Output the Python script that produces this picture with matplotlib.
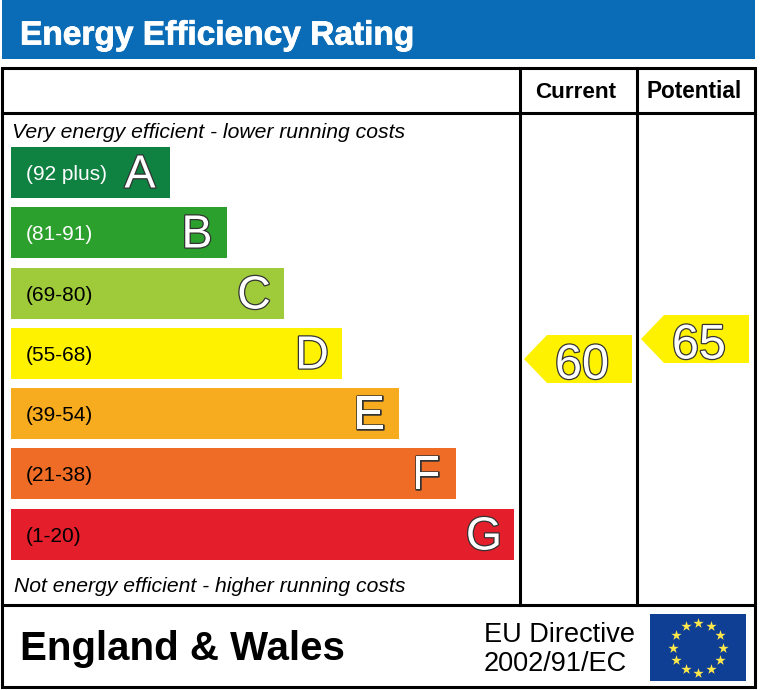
import numpy as np
import matplotlib
matplotlib.use("Agg")
import matplotlib.pyplot as plt
import matplotlib.patheffects as pe
from matplotlib.patches import Polygon, Rectangle

plt.rcParams['font.family'] = ['Liberation Sans', 'DejaVu Sans']

# bands, top to bottom
letters = ['A', 'B', 'C', 'D', 'E', 'F', 'G']
ranges = ['(92 plus)', '(81-91)', '(69-80)', '(55-68)', '(39-54)', '(21-38)', '(1-20)']
band_lengths = [159, 216, 273, 331, 388, 445, 503]
band_colors = ['#0f8242', '#2ba02d', '#9fcb3b', '#fff200', '#f7ab1e', '#ee6c25', '#e41e2a']
range_colors = ['white', 'white', 'black', 'black', 'black', 'black', 'black']
band_tops = [147, 207, 268, 328, 388, 448, 509]

# current and potential ratings
ratings = [60, 65]
rating_labels = ['Current', 'Potential']

BLUE = '#0a6cb6'

fig = plt.figure(figsize=(7.6, 6.9), dpi=100)
ax = fig.add_axes([0, 0, 1, 1])
ax.set_xlim(0, 760)
ax.set_ylim(690, 0)
ax.axis('off')

# title strip
ax.add_patch(Rectangle((2, 0), 753, 59, color=BLUE, lw=0))
ax.text(20, 36, 'Energy Efficiency Rating', color='white', fontsize=24.1,
        fontweight='bold', va='center', ha='left',
        path_effects=[pe.withStroke(linewidth=0.6, foreground='white')])

# frame and grid
lw = 2.2
ax.add_patch(Rectangle((2, 68), 753, 619, fill=False, ec='black', lw=lw))
ax.plot([2, 755], [113, 113], color='black', lw=lw)
ax.plot([2, 755], [605, 605], color='black', lw=lw)
ax.plot([520, 520], [68, 605], color='black', lw=lw)
ax.plot([637, 637], [68, 605], color='black', lw=lw)

ax.text(576, 92, rating_labels[0], fontsize=16.2, fontweight='bold', ha='center', va='center')
ax.text(694, 92, rating_labels[1], fontsize=16.3, fontweight='bold', ha='center', va='center')

ax.text(12, 133, 'Very energy efficient - lower running costs', fontsize=15.2,
        style='italic', ha='left', va='center')
ax.text(14, 586, 'Not energy efficient - higher running costs', fontsize=15.2,
        style='italic', ha='left', va='center')

# the bands
centers = np.array(band_tops) + 25.5
ax.barh(centers, band_lengths, height=51, left=11, color=band_colors, linewidth=0)

outline = [pe.withStroke(linewidth=1.8, foreground='#333333')]
for i in range(len(letters)):
    ax.text(26, centers[i] + 2, ranges[i], color=range_colors[i], fontsize=15,
            ha='left', va='center')
    ax.text(11 + band_lengths[i] - 30, centers[i] + 3, letters[i], color='white',
            fontsize=33.5, ha='center', va='center', path_effects=outline)


def arrow(tip_x, tip_y, value):
    pts = [(tip_x, tip_y), (tip_x + 23, tip_y - 24), (tip_x + 108, tip_y - 24),
           (tip_x + 108, tip_y + 24), (tip_x + 23, tip_y + 24)]
    ax.add_patch(Polygon(pts, closed=True, color='#fff200', lw=0))
    ax.text(tip_x + 58, tip_y + 7, str(value), color='white', fontsize=35,
            ha='center', va='center', path_effects=outline)


arrow(524, 359, ratings[0])
arrow(641, 339, ratings[1])

# footer
ax.text(20, 649, 'England & Wales', fontsize=29, fontweight='bold', ha='left', va='center')
ax.text(484, 635, 'EU Directive', fontsize=19.5, ha='left', va='center')
ax.text(484, 664, '2002/91/EC', fontsize=19.5, ha='left', va='center')

# flag
ax.add_patch(Rectangle((650, 614), 96, 67, color='#0f3f94', lw=0))
angles = np.radians(np.arange(12) * 30)
ax.scatter(698 + 25 * np.cos(angles), 647.5 + 25 * np.sin(angles), marker='*', s=60,
           color='#ffe94a', linewidths=0)

fig.savefig('out.png', dpi=100)
